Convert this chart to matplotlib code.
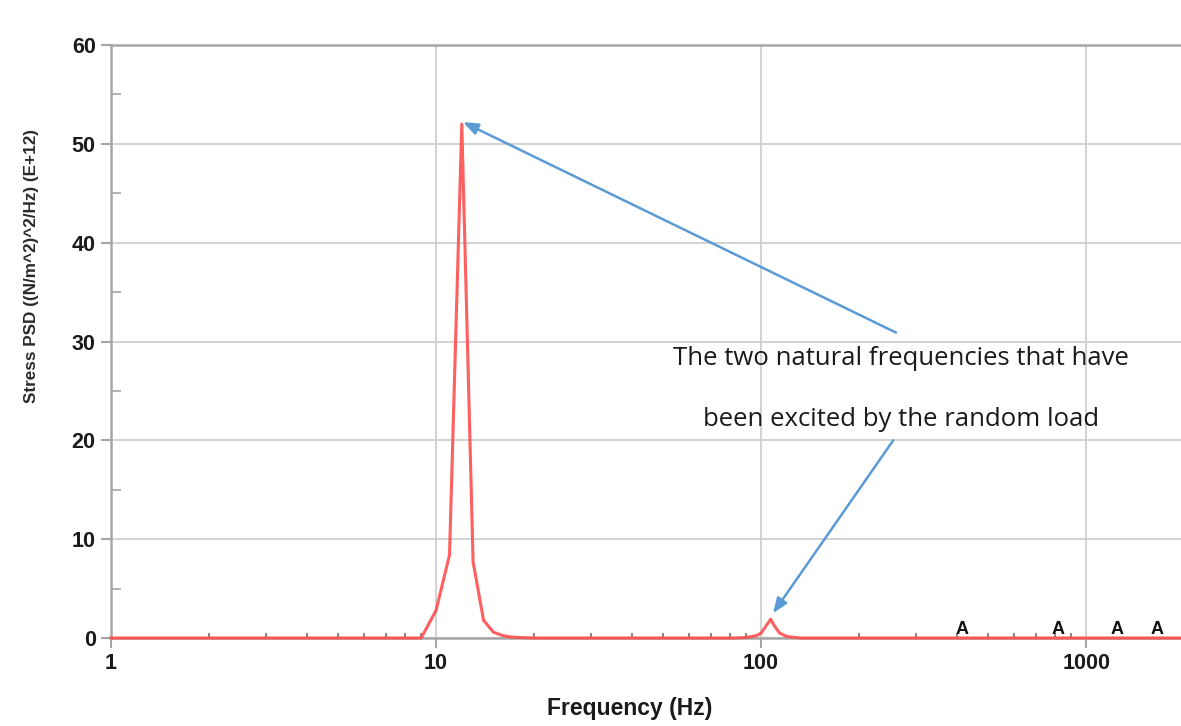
import numpy as np
import matplotlib
matplotlib.use("Agg")
import matplotlib.pyplot as plt
from matplotlib.ticker import FixedLocator, NullFormatter

# stress PSD (values in E+12 (N/m^2)^2/Hz)
freq = [1, 9, 10, 11, 12, 13, 14, 15, 16, 17, 18, 20,
        82, 90, 97, 100, 104, 107, 110, 114, 120, 132, 2000]
psd = [0, 0, 2.8, 8.4, 52, 7.7, 1.8, 0.6, 0.25, 0.1, 0.05, 0,
       0, 0.05, 0.25, 0.5, 1.3, 1.9, 1.2, 0.5, 0.15, 0, 0]

a_freqs = [415, 820, 1245, 1653]
xticks = [1, 10, 100, 1000]
xticklabels = ["1", "10", "100", "1000"]
yticks = [0, 10, 20, 30, 40, 50, 60]

note_lines = ["The two natural frequencies that have",
              "been excited by the random load"]

W, H = 1181, 726
fig = plt.figure(figsize=(W / 100, H / 100), dpi=100)
ax = fig.add_axes([111 / W, 1 - 638 / H, 1073 / W, 593 / H])

ax.plot(freq, psd, color="#ff4d4d", lw=2.2, alpha=0.9, zorder=3, clip_on=False)

ax.set_xscale("log")
ax.set_xlim(1, 2000)
ax.set_ylim(0, 60)

ax.xaxis.set_major_locator(FixedLocator(xticks))
ax.set_xticklabels(xticklabels)
minors = [m * 10 ** d for d in range(4) for m in range(2, 10)]
ax.xaxis.set_minor_locator(FixedLocator(minors))
ax.xaxis.set_minor_formatter(NullFormatter())
ax.set_yticks(yticks)
ax.yaxis.set_minor_locator(FixedLocator([5, 15, 25, 35, 45, 55]))

gray = "#a6a6a6"
ax.grid(True, which="major", color="#cfcfcf", lw=1.3)
for s in ["left", "bottom", "top"]:
    ax.spines[s].set_color(gray)
    ax.spines[s].set_linewidth(1.8)
ax.spines["right"].set_visible(False)

ax.tick_params(axis="both", which="major", direction="out", length=7,
               width=1.5, color=gray, labelsize=15.5, pad=4,
               labelcolor="#1a1a1a")
ax.tick_params(axis="x", which="minor", direction="in", length=3.5,
               width=1.2, color="#707070")
ax.tick_params(axis="y", which="minor", direction="in", length=7,
               width=1.2, color=gray)
for lab in ax.get_xticklabels() + ax.get_yticklabels():
    lab.set_fontweight("bold")
    lab.set_family("Liberation Sans")

for f in a_freqs:
    ax.text(f, 0.05, "A", ha="center", va="bottom", fontsize=13,
            fontweight="bold", family="Liberation Sans", color="#111111")

fig.text(32 / W, 1 - 266 / H, "Stress PSD ((N/m^2)^2/Hz) (E+12)",
         rotation=90, ha="center", va="center", fontsize=12.3,
         fontweight="bold", family="Liberation Sans", color="#2a2a2a")
fig.text(630 / W, 1 - 708 / H, "Frequency (Hz)", ha="center", va="center",
         fontsize=16.5, fontweight="bold", family="Liberation Sans",
         color="#1a1a1a")

# annotation text and arrows
ax.text(270, 28.3, note_lines[0], ha="center", va="center", fontsize=18.5,
        family="Open Sans", color="#1a1a1a", zorder=5)
ax.text(270, 22.1, note_lines[1], ha="center", va="center", fontsize=18.5,
        family="Open Sans", color="#1a1a1a", zorder=5)

arrow = dict(arrowstyle="-|>,head_length=0.9,head_width=0.35",
             color="#5b9bd5", lw=1.8, shrinkA=0, shrinkB=0)
ax.annotate("", xy=(12.1, 52.2), xytext=(260, 30.9), arrowprops=arrow)
ax.annotate("", xy=(108.8, 2.5), xytext=(255, 20.0), arrowprops=arrow)

fig.savefig("out.png", dpi=100)
